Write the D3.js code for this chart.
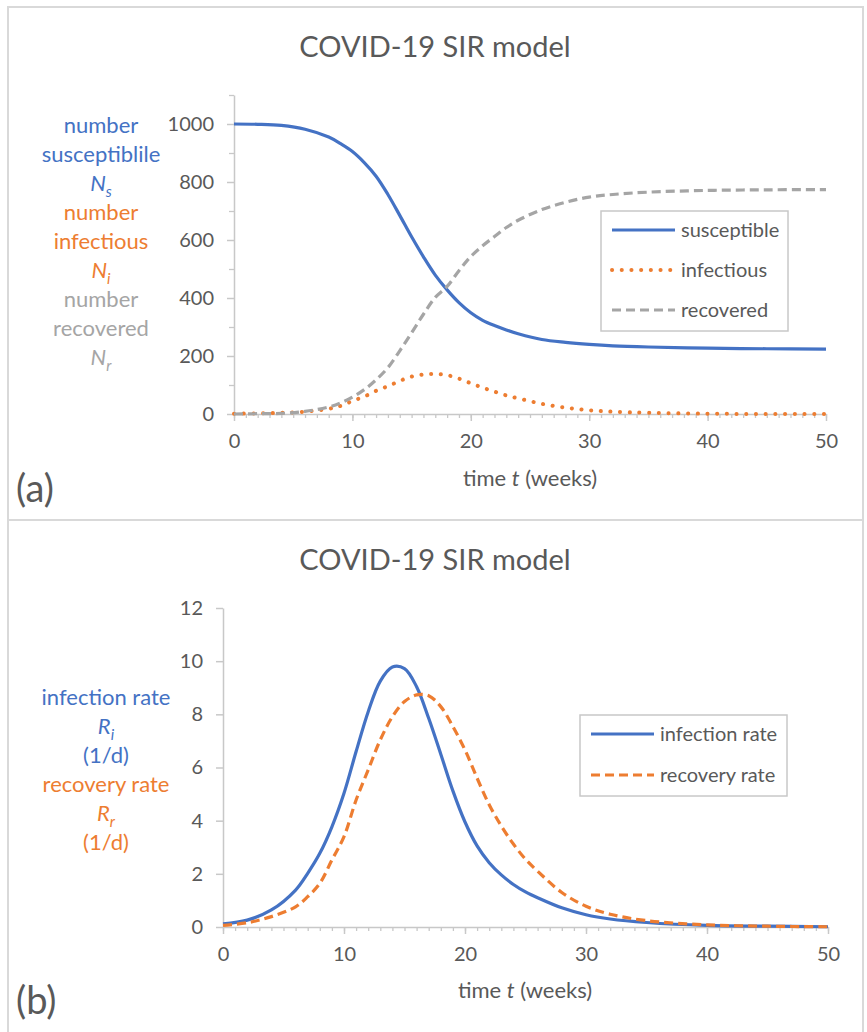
<!DOCTYPE html>
<html>
<head>
<meta charset="utf-8">
<script src="https://cdn.jsdelivr.net/npm/d3@7"></script>
<style>
  body { margin: 0; background: #fff; }
  svg { display: block; font-family: Lato, "Open Sans", sans-serif; }
</style>
</head>
<body>
<div id="chart"></div>
<script>
// ---- data ----
// panel (a): numbers of people
const weeksA = [0, 2, 4, 6, 8, 9, 10, 11, 12, 13, 14, 15, 16, 17, 18, 19, 20, 21, 22, 23, 24, 26, 28, 30, 32, 35, 40, 45, 50];
const susceptible = [1000, 999, 995, 982, 955, 932, 905, 867, 820, 757, 685, 611, 542, 479, 428, 384, 349, 323, 305, 290, 277, 257, 247, 240, 235, 231, 227, 225, 224];
const infectious = [1, 2, 4, 8, 18, 28, 45, 60, 80, 96, 114, 129, 136, 138, 134, 122, 106, 91, 77, 64, 54, 35, 22, 13, 8, 4, 1, 0, 0];
const recovered = [0, 1, 2, 9, 24, 38, 58, 84, 118, 160, 218, 280, 344, 402, 440, 494, 543, 580, 612, 643, 668, 705, 730, 748, 757, 765, 771, 773, 774];

// panel (b): rates
const weeksB = [0, 2, 4, 6, 7, 8, 9, 10, 11, 12, 13, 14, 15, 16, 17, 18, 19, 20, 21, 22, 23, 24, 25, 26, 28, 30, 32, 35, 40, 45, 50];
const infectionRate = [0.12, 0.26, 0.64, 1.39, 2.02, 2.77, 3.77, 5.03, 6.6, 8.1, 9.25, 9.78, 9.72, 9.04, 7.85, 6.5, 5.12, 3.95, 3.05, 2.42, 1.96, 1.6, 1.32, 1.1, 0.72, 0.46, 0.3, 0.17, 0.06, 0.03, 0.01];
const recoveryRate = [0.06, 0.16, 0.39, 0.76, 1.14, 1.64, 2.52, 3.40, 4.78, 5.91, 7.04, 7.91, 8.48, 8.73, 8.70, 8.29, 7.54, 6.66, 5.6, 4.6, 3.8, 3.12, 2.55, 2.1, 1.3, 0.78, 0.48, 0.24, 0.08, 0.03, 0.01];

// ticks
const weekTicks = [0, 10, 20, 30, 40, 50];
const weekMinor = d3.range(0, 51, 1);
const numberTicks = [0, 200, 400, 600, 800, 1000];
const numberMinor = [100, 300, 500, 700, 900, 1100];
const rateTicks = [0, 2, 4, 6, 8, 10, 12];

const titleText = 'COVID-19 SIR model';

// colours
const blue = '#4472c4', orange = '#ed7d31', grey = '#a5a5a5';
const textGrey = '#595959', axisGrey = '#c8c8c8';

const svg = d3.select('#chart').append('svg')
  .attr('width', 867)
  .attr('height', 1032);

// panel frames
svg.append('rect').attr('x', 8).attr('y', 7).attr('width', 855).attr('height', 513)
  .attr('fill', 'none').attr('stroke', '#d9d9d9').attr('stroke-width', 2);
svg.append('rect').attr('x', 8).attr('y', 520).attr('width', 855).attr('height', 530)
  .attr('fill', 'none').attr('stroke', '#d9d9d9').attr('stroke-width', 2);

function drawPanel(o) {
  const x = d3.scaleLinear().domain([0, 50]).range(o.xRange);
  const y = d3.scaleLinear().domain(o.yDomain).range(o.yRange);
  const g = svg.append('g');

  // title
  g.append('text')
    .attr('x', 435).attr('y', o.titleY)
    .attr('text-anchor', 'middle')
    .style('font-size', '29px').style('fill', textGrey)
    .text(titleText);

  // minor x ticks
  g.append('g')
    .attr('transform', `translate(0,${o.yRange[0]})`)
    .call(d3.axisBottom(x).tickValues(weekMinor).tickSize(4).tickFormat(''))
    .call(a => a.select('.domain').remove())
    .call(a => a.selectAll('line').attr('stroke', axisGrey).attr('stroke-width', 1.3));

  // major x axis
  g.append('g')
    .attr('transform', `translate(0,${o.yRange[0]})`)
    .call(d3.axisBottom(x).tickValues(weekTicks).tickSize(7).tickPadding(13).tickSizeOuter(0))
    .call(a => a.select('.domain').attr('stroke', axisGrey).attr('stroke-width', 1.5))
    .call(a => a.selectAll('line').attr('stroke', axisGrey).attr('stroke-width', 1.5))
    .call(a => a.selectAll('text').style('font-size', '20px').style('fill', textGrey).style('font-family', 'Lato'));

  // y axis
  if (o.yMinor) {
    g.append('g')
      .attr('transform', `translate(${o.xRange[0]},0)`)
      .call(d3.axisLeft(y).tickValues(o.yMinor).tickSize(5).tickFormat(''))
      .call(a => a.select('.domain').remove())
      .call(a => a.selectAll('line').attr('stroke', axisGrey).attr('stroke-width', 1.3));
  }
  g.append('g')
    .attr('transform', `translate(${o.xRange[0]},0)`)
    .call(d3.axisLeft(y).tickValues(o.yTicks).tickSize(7).tickPadding(o.yPad)
      .tickSizeOuter(0).tickFormat(d3.format('d')))
    .call(a => a.select('.domain').attr('stroke', axisGrey).attr('stroke-width', 1.5))
    .call(a => a.selectAll('line').attr('stroke', axisGrey).attr('stroke-width', 1.5))
    .call(a => a.selectAll('text').style('font-size', '20px').style('fill', textGrey).style('font-family', 'Lato'));

  // x axis title
  const xt = g.append('text')
    .attr('x', o.xTitle[0]).attr('y', o.xTitle[1])
    .attr('text-anchor', 'middle')
    .style('font-size', '22px').style('fill', textGrey);
  xt.append('tspan').text('time ');
  xt.append('tspan').style('font-style', 'italic').text('t');
  xt.append('tspan').text(' (weeks)');

  // panel letter
  g.append('text')
    .attr('x', 16).attr('y', o.letterY)
    .style('font-size', '38px').style('fill', textGrey)
    .text(o.letter);

  // y axis title lines, stacked and coloured per series
  o.yTitle.forEach((line, i) => {
    const t = g.append('text')
      .attr('x', o.yTitleX).attr('y', o.yTitleY + i * o.yTitleStep)
      .attr('text-anchor', 'middle')
      .style('font-size', '22px').style('fill', line.color);
    if (line.sub) {
      t.append('tspan').style('font-style', 'italic').text(line.text);
      t.append('tspan').style('font-style', 'italic').style('font-size', '15px')
        .attr('dy', 6).text(line.sub);
    } else {
      t.text(line.text);
    }
  });

  // series
  o.series.forEach(s => {
    const line = d3.line()
      .x((d, i) => x(s.weeks[i]))
      .y(d => y(d))
      .curve(d3.curveCatmullRom);
    g.append('path')
      .datum(s.values)
      .attr('fill', 'none')
      .attr('stroke', s.color)
      .attr('stroke-width', s.width)
      .attr('stroke-linecap', s.cap)
      .attr('stroke-dasharray', s.dash)
      .attr('d', line);
  });

  // legend
  const L = o.legend;
  const lg = g.append('g');
  lg.append('rect')
    .attr('x', L.x).attr('y', L.y).attr('width', L.w).attr('height', L.h)
    .attr('fill', '#fff').attr('stroke', '#c8c8c8').attr('stroke-width', 1.5);
  o.series.forEach((s, i) => {
    const cy = L.y + L.first + i * L.step;
    lg.append('line')
      .attr('x1', L.x + 11).attr('x2', L.x + 74)
      .attr('y1', cy).attr('y2', cy)
      .attr('stroke', s.color).attr('stroke-width', s.width)
      .attr('stroke-linecap', s.cap)
      .attr('stroke-dasharray', s.dash);
    lg.append('text')
      .attr('x', L.x + 80).attr('y', cy)
      .attr('dy', '0.35em')
      .style('font-size', '20px').style('fill', textGrey)
      .text(s.name);
  });
}

drawPanel({
  letter: '(a)', letterY: 502,
  titleY: 57,
  xRange: [234, 826], yRange: [414, 95], yDomain: [0, 1100],
  yTicks: numberTicks, yMinor: numberMinor, yPad: 13,
  xTitle: [530, 486],
  yTitleX: 101, yTitleY: 133, yTitleStep: 29,
  yTitle: [
    { text: 'number', color: blue },
    { text: 'susceptiblile', color: blue },
    { text: 'N', sub: 's', color: blue },
    { text: 'number', color: orange },
    { text: 'infectious', color: orange },
    { text: 'N', sub: 'i', color: orange },
    { text: 'number', color: grey },
    { text: 'recovered', color: grey },
    { text: 'N', sub: 'r', color: grey }
  ],
  series: [
    { name: 'susceptible', weeks: weeksA, values: susceptible, color: blue, dash: null, cap: 'butt', width: 3.2 },
    { name: 'infectious', weeks: weeksA, values: infectious, color: orange, dash: '0.1 9.6', cap: 'round', width: 4 },
    { name: 'recovered', weeks: weeksA, values: recovered, color: grey, dash: '9 5', cap: 'butt', width: 3.2 }
  ],
  legend: { x: 601, y: 211, w: 187, h: 120, first: 19, step: 40 }
});

drawPanel({
  letter: '(b)', letterY: 1014,
  titleY: 570,
  xRange: [223, 828], yRange: [927, 608], yDomain: [0, 12],
  yTicks: rateTicks, yMinor: null, yPad: 13,
  xTitle: [525, 998],
  yTitleX: 106, yTitleY: 705, yTitleStep: 29,
  yTitle: [
    { text: 'infection rate', color: blue },
    { text: 'R', sub: 'i', color: blue },
    { text: '(1/d)', color: blue },
    { text: 'recovery rate', color: orange },
    { text: 'R', sub: 'r', color: orange },
    { text: '(1/d)', color: orange }
  ],
  series: [
    { name: 'infection rate', weeks: weeksB, values: infectionRate, color: blue, dash: null, cap: 'butt', width: 3.2 },
    { name: 'recovery rate', weeks: weeksB, values: recoveryRate, color: orange, dash: '9 5', cap: 'butt', width: 3.2 }
  ],
  legend: { x: 580, y: 715, w: 207, h: 81, first: 19, step: 41 }
});
</script>
</body>
</html>
